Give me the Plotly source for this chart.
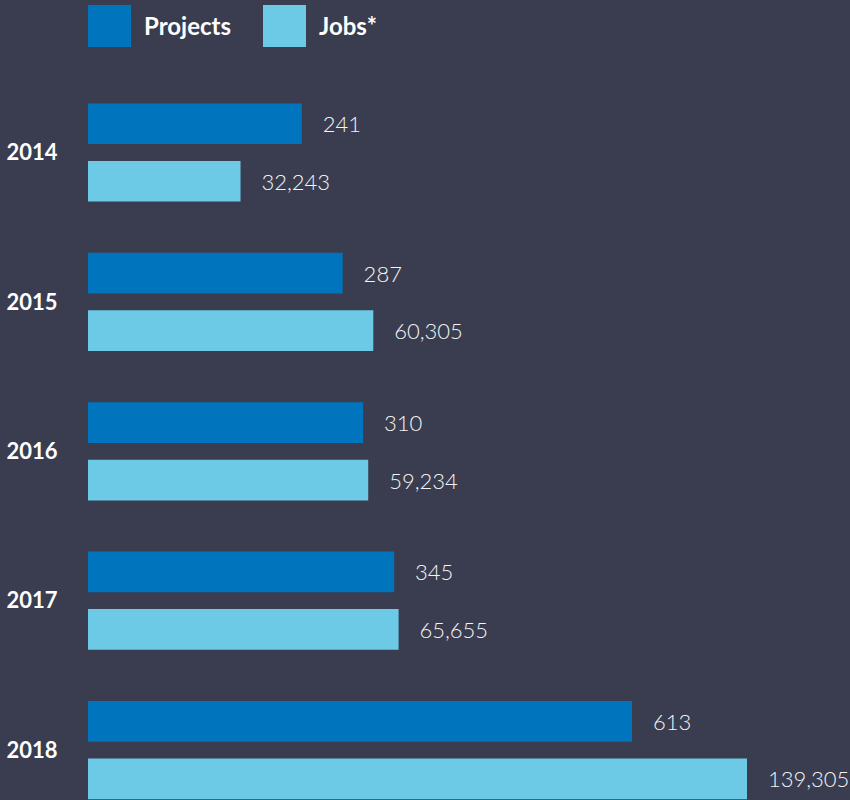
import plotly.graph_objects as go

years = ["2014", "2015", "2016", "2017", "2018"]
projects = [241, 287, 310, 345, 613]
jobs = [32243, 60305, 59234, 65655, 139305]
series_names = ["Projects", "Jobs*"]

BG = "#3a3d50"
C_PROJ = "#0074bd"
C_JOBS = "#6dcae6"
W, H = 850, 800
L = 88
PW = W - L
pitch = 149.4
bar_h = 40.7 / pitch
gap = 8.4 / pitch

def fmt(v):
    return "\u00a0\u00a0\u00a0" + f"{v:,}"

label_font = dict(family="Lato", size=22, color="#f4f4f4", weight=300)

fig = go.Figure()
fig.add_trace(go.Bar(
    y=years, x=projects, orientation="h", name=series_names[0],
    marker=dict(color=C_PROJ, line=dict(width=0)),
    width=bar_h, offset=-(bar_h + gap),
    text=[fmt(v) for v in projects], textposition="outside",
    textfont=label_font,
    cliponaxis=False, xaxis="x", showlegend=False,
))
fig.add_trace(go.Bar(
    y=years, x=jobs, orientation="h", name=series_names[1],
    marker=dict(color=C_JOBS, line=dict(width=0)),
    width=bar_h, offset=gap,
    text=[fmt(v) for v in jobs], textposition="outside",
    textfont=label_font,
    cliponaxis=False, xaxis="x2", showlegend=False,
))

proj_scale = 544 / 613.0
jobs_scale = 659 / 139305.0

fig.update_layout(
    width=W, height=H,
    margin=dict(l=L, r=0, t=0, b=0, pad=0),
    paper_bgcolor=BG, plot_bgcolor=BG,
    barmode="overlay",
    showlegend=False,
    xaxis=dict(range=[0, PW / proj_scale], visible=False, fixedrange=True),
    xaxis2=dict(range=[0, PW / jobs_scale], visible=False, overlaying="x",
                fixedrange=True),
    yaxis=dict(
        type="category", categoryorder="array", categoryarray=years,
        range=[(H - 152.5) / pitch, (0 - 152.5) / pitch],
        showgrid=False, zeroline=False, showline=False, fixedrange=True,
        ticks="outside", ticklen=25, tickcolor=BG,
        tickfont=dict(family="Lato", size=22, color="#ffffff", weight=700),
    ),
)

def px_x(p):
    return (p - L) / PW

def px_y(p):
    return 1 - p / H

legend_items = [(88, 142, C_PROJ, series_names[0]), (263, 317, C_JOBS, series_names[1])]
for sx, tx, col, name in legend_items:
    fig.add_shape(type="rect", xref="paper", yref="paper",
                  x0=px_x(sx), x1=px_x(sx + 43), y0=px_y(47), y1=px_y(5),
                  fillcolor=col, line=dict(width=0), layer="above")
    fig.add_annotation(xref="paper", yref="paper", x=px_x(tx), y=px_y(26),
                       xanchor="left", yanchor="middle", showarrow=False,
                       text=name,
                       font=dict(family="Lato", size=24, color="#ffffff", weight=700))

fig.write_html("out.html", config={"displayModeBar": False},
               post_script="document.body.style.margin='0';document.body.style.background='%s';" % BG)
